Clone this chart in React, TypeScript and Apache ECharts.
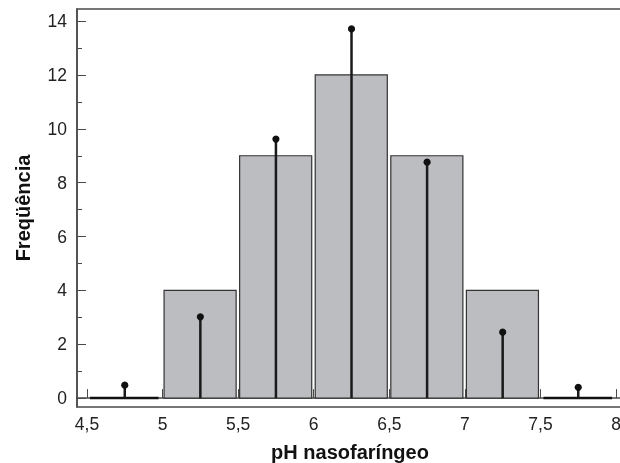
import React, { useEffect, useRef } from "react";
import * as echarts from "echarts";

const binStarts = [4.5, 5.0, 5.5, 6.0, 6.5, 7.0, 7.5];
const binEnds = [5.0, 5.5, 6.0, 6.5, 7.0, 7.5, 8.0];
const counts = [0, 4, 9, 12, 9, 4, 0];
const stemX = [4.75, 5.25, 5.75, 6.25, 6.75, 7.25, 7.75];
const stemY = [0.48, 3.02, 9.62, 13.71, 8.76, 2.45, 0.4];
const xTicks = [4.5, 5, 5.5, 6, 6.5, 7, 7.5, 8];
const yTicks = [0, 2, 4, 6, 8, 10, 12, 14];
const yMinorTicks = [1, 3, 5, 7, 9, 11, 13];

const FONT = "'Liberation Sans', Arial, Helvetica, sans-serif";

export default function App() {
  const ref = useRef<HTMLDivElement>(null);
  useEffect(() => {
    if (!ref.current) return;
    const chart = echarts.init(ref.current, null, { renderer: "svg" });
    const barData = binStarts.map((s, i) => [s, binEnds[i], counts[i]]);
    const stemData = stemX.map((x, i) => [x, stemY[i]]);
    const axisLineStyle = { color: "#4a4a4a", width: 1.5 };
    chart.setOption({
      animation: false,
      grid: {
        left: 77,
        top: 9,
        right: -3,
        bottom: 56,
        show: true,
        borderColor: "#4a4a4a",
        borderWidth: 1.5,
        containLabel: false,
        outerBoundsMode: "none",
      },
      xAxis: {
        type: "value",
        min: 4.434,
        max: 8.046,
        name: "pH nasofaríngeo",
        nameLocation: "middle",
        nameGap: 35,
        nameTextStyle: { fontFamily: FONT, fontWeight: "bold", fontSize: 20, color: "#111" },
        axisLine: { show: true, lineStyle: axisLineStyle },
        axisTick: {
          show: true,
          inside: true,
          length: 9,
          customValues: xTicks,
          lineStyle: { color: "#4a4a4a", width: 1 },
        },
        axisLabel: {
          customValues: xTicks,
          margin: 8,
          fontFamily: FONT,
          fontSize: 17.5,
          color: "#222",
          formatter: (v: number) => String(v).replace(".", ","),
        },
        splitLine: { show: false },
      },
      yAxis: [
        {
          type: "value",
          min: -0.33,
          max: 14.45,
          name: "Freqüência",
          nameLocation: "middle",
          nameGap: 44,
          nameRotate: 90,
          nameTextStyle: { fontFamily: FONT, fontWeight: "bold", fontSize: 20, color: "#111" },
          axisLine: { show: true, lineStyle: axisLineStyle },
          axisTick: {
            show: true,
            inside: true,
            length: 9,
            customValues: yTicks,
            lineStyle: { color: "#4a4a4a", width: 1 },
          },
          axisLabel: {
            customValues: yTicks,
            margin: 10,
            fontFamily: FONT,
            fontSize: 17.5,
            color: "#222",
          },
          splitLine: { show: false },
        },
        {
          type: "value",
          min: -0.33,
          max: 14.45,
          position: "left",
          axisLine: { show: false },
          axisTick: {
            show: true,
            inside: true,
            length: 5,
            customValues: yMinorTicks,
            lineStyle: { color: "#4a4a4a", width: 1 },
          },
          axisLabel: { show: false },
          splitLine: { show: false },
        },
      ],
      series: [
        {
          type: "custom",
          data: barData,
          encode: { x: [0, 1], y: 2 },
          renderItem: (params: any, api: any) => {
            const x0 = api.value(0);
            const x1 = api.value(1);
            const c = api.value(2);
            const p0 = api.coord([x0, c]);
            const p1 = api.coord([x1, 0]);
            if (c === 0) {
              return {
                type: "line",
                shape: { x1: p0[0] + 3, y1: p1[1], x2: p1[0] - 4, y2: p1[1] },
                style: { stroke: "#111", lineWidth: 2.5 },
              };
            }
            return {
              type: "rect",
              shape: {
                x: p0[0] + 1.5,
                y: p0[1],
                width: p1[0] - p0[0] - 3.5,
                height: p1[1] - p0[1],
              },
              style: { fill: "#bcbdc1", stroke: "#333", lineWidth: 1.2 },
            };
          },
          z: 2,
        },
        {
          type: "custom",
          data: stemData,
          encode: { x: 0, y: 1 },
          renderItem: (params: any, api: any) => {
            const x = api.value(0);
            const y = api.value(1);
            const top = api.coord([x, y]);
            const base = api.coord([x, 0]);
            return {
              type: "group",
              children: [
                {
                  type: "line",
                  shape: { x1: top[0], y1: top[1], x2: base[0], y2: base[1] },
                  style: { stroke: "#1a1a1a", lineWidth: 2.5 },
                },
                {
                  type: "circle",
                  shape: { cx: top[0], cy: top[1], r: 3.6 },
                  style: { fill: "#111" },
                },
              ],
            };
          },
          z: 3,
        },
      ],
    });
    return () => chart.dispose();
  }, []);
  return <div ref={ref} style={{ width: 620, height: 463, position: "fixed", left: 0, top: 0 }} />;
}
